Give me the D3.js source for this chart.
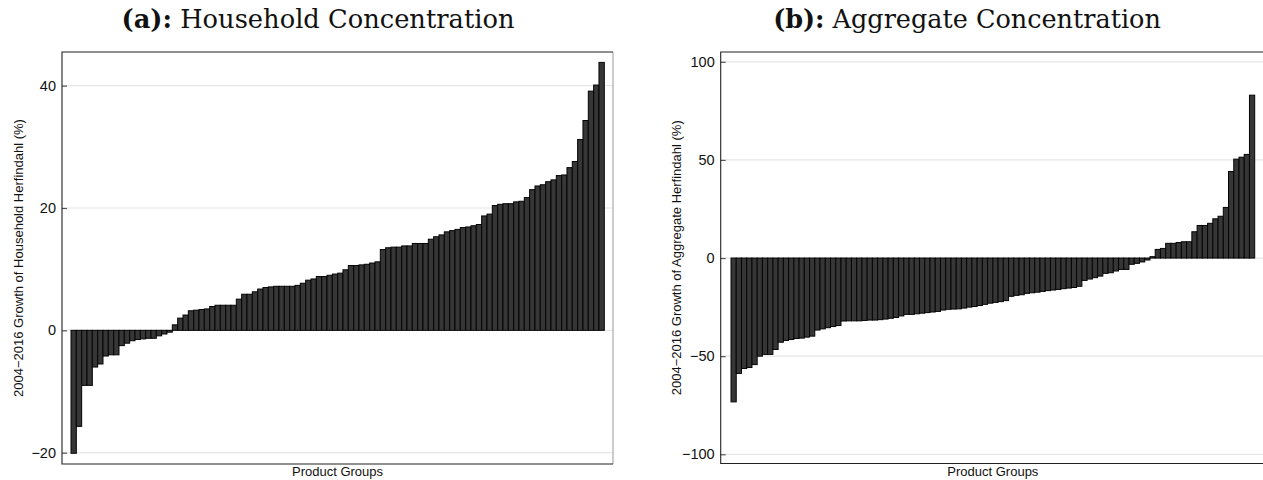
<!DOCTYPE html>
<html><head><meta charset="utf-8">
<script src="https://cdn.jsdelivr.net/npm/d3@7"></script>
<style>
html,body{margin:0;padding:0;background:#fff;}
svg{display:block;}
</style></head>
<body>
<svg id="chart" width="1263" height="480"></svg>
<script>
// ---- data ----
const groups = d3.range(1, 101);
const householdGrowth = [
 -20.1,-15.7,-9.0,-9.0,-6.0,-5.5,-4.2,-4.0,-4.0,-2.5,
 -2.1,-1.7,-1.5,-1.4,-1.3,-1.3,-0.9,-0.6,-0.3,0.9,
 2.0,2.5,3.2,3.3,3.4,3.5,3.9,4.1,4.1,4.1,
 4.1,5.1,5.9,5.9,6.3,6.75,7.0,7.1,7.2,7.2,
 7.2,7.2,7.35,7.7,8.2,8.4,8.8,8.8,9.0,9.2,
 9.35,9.9,10.6,10.6,10.7,10.8,11.0,11.2,13.2,13.5,
 13.6,13.6,13.8,13.8,14.2,14.2,14.2,14.9,15.3,15.6,
 16.1,16.3,16.5,16.8,16.9,17.1,17.3,18.7,19.0,20.4,
 20.6,20.7,20.7,21.0,21.1,21.7,23.0,23.6,23.8,24.3,
 24.6,25.3,25.4,26.6,27.6,31.2,34.3,39.1,40.1,43.8
];
const aggregateGrowth = [
 -73.3,-58.8,-56.3,-55.8,-54.3,-50.0,-49.1,-49.1,-46.6,-42.9,
 -42.0,-41.5,-41.0,-40.8,-40.3,-39.8,-36.7,-36.1,-35.5,-34.9,
 -34.4,-32.1,-32.0,-32.0,-32.0,-31.8,-31.6,-31.6,-31.4,-31.1,
 -30.7,-30.3,-29.5,-28.7,-28.7,-28.4,-28.1,-27.8,-27.5,-27.2,
 -26.5,-26.1,-26.0,-25.9,-25.5,-25.0,-24.7,-24.2,-23.6,-23.0,
 -22.6,-22.2,-21.7,-19.5,-19.0,-18.7,-18.0,-17.7,-17.4,-17.0,
 -16.6,-16.3,-16.0,-15.6,-15.3,-15.0,-14.4,-11.4,-10.7,-10.0,
 -9.2,-7.8,-7.5,-6.6,-5.8,-5.8,-3.2,-2.7,-2.0,-1.0,
 0.7,4.4,4.9,7.5,7.5,7.9,8.3,8.3,13.4,16.6,
 16.6,17.7,20.0,21.3,25.8,44.1,50.4,51.4,52.8,83.0
];
const householdTicks = [-20, 0, 20, 40];
const aggregateTicks = [-100, -50, 0, 50, 100];
const titlesBold = ["(a):", "(b):"];
const titlesRest = [" Household Concentration", " Aggregate Concentration"];
const yTitles = ["2004\u22122016 Growth of Household Herfindahl (%)", "2004\u22122016 Growth of Aggregate Herfindahl (%)"];
const xTitle = "Product Groups";

// ---- layout ----
const svg = d3.select("#chart");
const panels = [
  {values: householdGrowth, ticks: householdTicks, domain: [-21.85, 45.5],
   fx0: 62, fx1: 613, fy0: 52, fy1: 464, bx0: 71, bx1: 604.3,
   titleCx: 318, yTitleX: 23, titleW: 393},
  {values: aggregateGrowth, ticks: aggregateTicks, domain: [-104.7, 105.0],
   fx0: 720.7, fx1: 1266, fy0: 52, fy1: 463.5, bx0: 731, bx1: 1254.7,
   titleCx: 967, yTitleX: 681, titleW: 388}
];

panels.forEach((p, i) => {
  const g = svg.append("g");
  const x = d3.scaleBand().domain(groups).range([p.bx0, p.bx1]).padding(0);
  const y = d3.scaleLinear().domain(p.domain).range([p.fy1, p.fy0]);

  // gridlines
  g.append("g").selectAll("line").data(p.ticks).join("line")
    .attr("x1", p.fx0).attr("x2", p.fx1)
    .attr("y1", d => y(d)).attr("y2", d => y(d))
    .attr("stroke", "#e6e6e6").attr("stroke-width", 1.2);

  // bars
  g.append("g").selectAll("rect").data(p.values).join("rect")
    .attr("x", (d, k) => x(groups[k]))
    .attr("width", x.bandwidth())
    .attr("y", d => Math.min(y(d), y(0)))
    .attr("height", d => Math.abs(y(d) - y(0)))
    .attr("fill", "#363636")
    .attr("stroke", "#050505")
    .attr("stroke-width", 1);

  // y axis (ticks inside, labels outside)
  const ax = d3.axisLeft(y).tickValues(p.ticks).tickSizeInner(-5).tickSizeOuter(0)
    .tickPadding(6).tickFormat(d3.format("d"));
  const axg = g.append("g").attr("transform", `translate(${p.fx0},0)`).call(ax);
  axg.select(".domain").remove();
  axg.selectAll(".tick line").attr("stroke", "#555").attr("stroke-width", 1.2);
  axg.selectAll(".tick text").attr("font-family", "Liberation Sans, Arial, sans-serif")
    .attr("font-size", 14.5).attr("fill", "#111");

  // frame
  g.append("line").attr("x1", p.fx1).attr("x2", p.fx1).attr("y1", p.fy0).attr("y2", p.fy1)
    .attr("stroke", "#9a9a9a").attr("stroke-width", 1);
  g.append("path")
    .attr("d", `M${p.fx1},${p.fy0}H${p.fx0}V${p.fy1}H${p.fx1}`)
    .attr("fill", "none").attr("stroke", "#222").attr("stroke-width", 1.1);

  // y title
  g.append("text")
    .attr("transform", `translate(${p.yTitleX},${(p.fy0 + p.fy1) / 2}) rotate(-90)`)
    .attr("text-anchor", "middle")
    .attr("font-family", "Liberation Sans, Arial, sans-serif")
    .attr("font-size", 13).attr("fill", "#111")
    .text(yTitles[i]);

  // x title
  g.append("text")
    .attr("x", (p.fx0 + Math.min(p.fx1, 1265)) / 2).attr("y", 476)
    .attr("text-anchor", "middle")
    .attr("font-family", "Liberation Sans, Arial, sans-serif")
    .attr("font-size", 13).attr("fill", "#111")
    .text(xTitle);

  // panel title
  const t = g.append("text")
    .attr("x", p.titleCx).attr("y", 28)
    .attr("text-anchor", "middle")
    .attr("font-family", "DejaVu Serif, Liberation Serif, serif")
    .attr("font-size", 22).attr("fill", "#111");
  t.append("tspan").attr("font-weight", "bold").text(titlesBold[i]);
  t.append("tspan").text(titlesRest[i]);
  const w = t.node().getComputedTextLength();
  if (w > 0) t.attr("font-size", 22 * p.titleW / w);
});
</script>
</body></html>
